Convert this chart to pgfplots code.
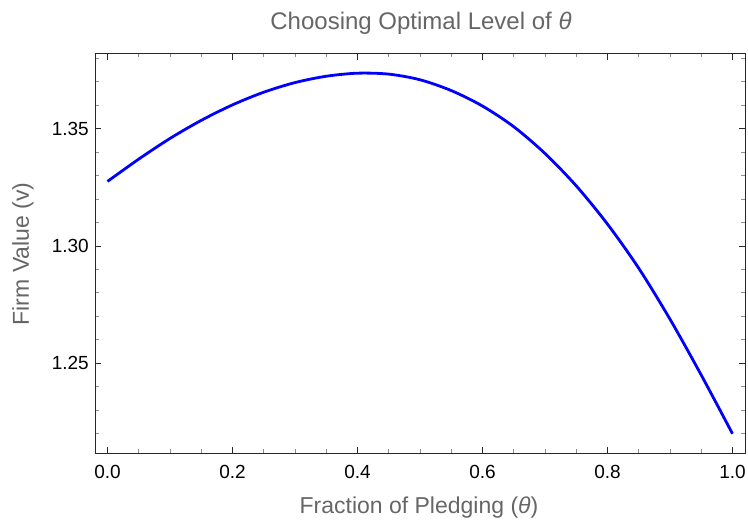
\documentclass[border=0pt]{standalone}
\usepackage{fontspec}
\setmainfont{Liberation Sans}
\usepackage{pgfplots}
\pgfplotsset{compat=1.18}
\definecolor{labgray}{RGB}{102,102,102}
\definecolor{framegray}{RGB}{40,40,40}
\begin{document}
\begin{tikzpicture}
\begin{axis}[
  at={(0pt,0pt)}, anchor=south west,
  scale only axis, width=650pt, height=400pt,
  xmin=-0.02, xmax=1.02, ymin=1.2118, ymax=1.3822,
  xtick={0,0.2,0.4,0.6,0.8,1.0},
  ytick={1.25,1.30,1.35},
  minor xtick={0,0.05,...,1.001},
  minor ytick={1.22,1.23,...,1.381},
  tick align=inside,
  major tick length=6.5pt, minor tick length=4pt,
  every tick/.style={framegray, line width=0.9pt},
  every minor tick/.style={black!45, line width=0.9pt},
  axis line style={framegray, line width=0.9pt},
  /pgf/number format/assume math mode=true,
  xticklabel={\pgfmathprintnumber[fixed,fixed zerofill,precision=1]{\tick}},
  yticklabel={\pgfmathprintnumber[fixed,fixed zerofill,precision=2]{\tick}},
  tick label style={font=\fontsize{19}{19}\selectfont, text=black},
  xticklabel style={anchor=base, yshift=-25pt, inner sep=0pt},
  yticklabel style={anchor=east, xshift=-6pt, inner sep=0pt},
]
\addplot[blue, line width=2.8pt, smooth] coordinates {
(0.00,1.3275) (0.05,1.3370) (0.10,1.3458) (0.15,1.3535) (0.20,1.3601)
(0.25,1.3655) (0.30,1.3696) (0.35,1.3723) (0.40,1.3736) (0.45,1.3732)
(0.50,1.3708) (0.55,1.3662) (0.60,1.3596) (0.65,1.3508) (0.70,1.3394)
(0.75,1.3256) (0.80,1.3093) (0.85,1.2905) (0.90,1.2688) (0.95,1.2450)
(1.00,1.2200)
};
\end{axis}
\node[anchor=base, text=labgray, font=\fontsize{24}{24}\selectfont] at (326pt,423.7pt) {Choosing Optimal Level of {\itshape θ}};
\node[anchor=base, text=labgray, font=\fontsize{23}{23}\selectfont] at (324pt,-60pt) {Fraction of Pledging ({\itshape θ})};
\node[anchor=base, rotate=90, text=labgray, font=\fontsize{23}{23}\selectfont] at (-66pt,199pt) {Firm Value (v)};
\pgfresetboundingbox
\path[use as bounding box] (-95pt,-70pt) rectangle (653pt,453pt);
\end{tikzpicture}
\end{document}
